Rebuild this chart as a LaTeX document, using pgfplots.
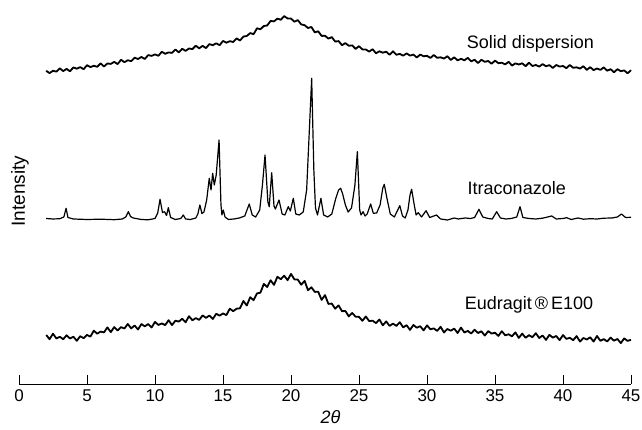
\documentclass[border=0pt]{standalone}
\usepackage{fontspec}
\setmainfont{Liberation Sans}
\usepackage{pgfplots}
\pgfplotsset{compat=1.18}

\begin{document}
\begin{tikzpicture}
\begin{axis}[
  scale only axis,
  width=612pt, height=384pt,
  xmin=0, xmax=45, ymin=46, ymax=430,
  clip=false,
  axis x line*=bottom,
  hide y axis,
  x axis line style={-, line width=0.8pt},
  xtick={0,5,...,45},
  minor xtick={},
  tick align=inside,
  major tick length=9pt,
  xtick style={black, line width=0.8pt},
  /pgf/number format/assume math mode=true,
  xticklabel style={font=\fontsize{17}{20}\selectfont, yshift=-2pt},
  every axis plot/.append style={black, line join=round},
]

% Solid dispersion (amorphous halo)
\addplot[line width=1.8pt] coordinates {
(2.00,359.2) (2.25,356.9) (2.50,359.2) (2.75,358.4) (3.00,361.6) (3.25,358.9) (3.50,361.1) (3.75,358.7) (4.00,362.6) (4.25,361.3) (4.50,362.9) (4.75,360.8) (5.00,364.8) (5.25,362.9) (5.50,364.2) (5.75,363.2) (6.00,366.6) (6.25,363.5) (6.50,366.5) (6.75,366.1) (7.00,368.1) (7.25,365.9) (7.50,370.2) (7.75,367.8) (8.00,369.7) (8.25,368.9) (8.50,372.3) (8.75,371.0) (9.00,373.0) (9.25,371.0) (9.50,374.9) (9.75,374.1) (10.00,375.6) (10.25,374.2) (10.50,378.2) (10.75,376.2) (11.00,377.6) (11.25,377.1) (11.50,380.5) (11.75,377.6) (12.00,381.2) (12.25,379.1) (12.50,381.5) (12.75,380.9) (13.00,384.3) (13.25,381.7) (13.50,384.1) (13.75,381.9) (14.00,385.9) (14.25,384.8) (14.50,386.7) (14.75,384.8) (15.00,389.0) (15.25,387.3) (15.50,388.8) (15.75,388.0) (16.00,391.6) (16.25,389.5) (16.50,393.4) (16.75,394.0) (17.00,396.9) (17.25,395.8) (17.50,401.7) (17.75,400.7) (18.00,404.0) (18.25,404.5) (18.50,409.1) (18.75,408.6) (19.00,411.4) (19.25,410.2) (19.50,413.9) (19.75,411.5) (20.00,411.4) (20.25,408.3) (20.50,409.9) (20.75,405.6) (21.00,404.8) (21.25,402.0) (21.50,403.0) (21.75,397.6) (22.00,398.7) (22.25,394.1) (22.50,394.2) (22.75,391.4) (23.00,392.9) (23.25,388.4) (23.50,388.9) (23.75,384.8) (24.00,386.9) (24.25,384.2) (24.50,384.6) (24.75,381.1) (25.00,383.8) (25.25,380.6) (25.50,380.5) (25.75,378.4) (26.00,380.8) (26.25,376.7) (26.50,378.7) (26.75,377.3) (27.00,378.3) (27.25,375.2) (27.50,378.7) (27.75,375.2) (28.00,376.1) (28.25,374.3) (28.50,376.6) (28.75,374.4) (29.00,375.4) (29.25,372.5) (29.50,375.4) (29.75,373.7) (30.00,374.2) (30.25,372.0) (30.50,375.0) (30.75,372.2) (31.00,372.7) (31.25,371.4) (31.50,373.8) (31.75,370.0) (32.00,372.7) (32.25,369.6) (32.50,371.2) (32.75,369.7) (33.00,372.1) (33.25,368.7) (33.50,370.2) (33.75,367.0) (34.00,370.2) (34.25,368.2) (34.50,369.0) (34.75,366.2) (35.00,369.4) (35.25,366.8) (35.50,367.3) (35.75,365.6) (36.00,368.2) (36.25,364.4) (36.50,366.6) (36.75,365.5) (37.00,366.7) (37.25,363.8) (37.50,367.3) (37.75,364.0) (38.00,365.0) (38.25,363.4) (38.50,365.9) (38.75,363.7) (39.00,364.9) (39.25,362.0) (39.50,365.0) (39.75,363.4) (40.00,364.0) (40.25,361.8) (40.50,365.0) (40.75,362.2) (41.00,362.7) (41.25,361.4) (41.50,363.8) (41.75,360.1) (42.00,362.8) (42.25,359.9) (42.50,361.5) (42.75,360.1) (43.00,362.6) (43.25,359.3) (43.50,360.8) (43.75,357.7) (44.00,360.8) (44.25,358.8) (44.50,359.6) (44.75,356.7) (45.00,359.8)
};

% Itraconazole (crystalline)
\addplot[line width=1.2pt] coordinates {
(2.0,211.5) (2.5,211.0) (3.0,211.3) (3.3,213) (3.46,221.7) (3.6,212.5) (4.0,211.0) (5,210.5) (6,210.8) (7,210.3) (7.6,211) (7.85,213) (8.04,218.3) (8.2,213.5) (8.4,212) (8.6,211.5) (9,210.5) (9.5,210.2) (10.0,211.5) (10.2,217) (10.37,230.7) (10.55,217.5) (10.7,218.3) (10.85,214.5) (10.98,222.3) (11.15,212.5) (11.5,210.5) (11.9,211.5) (12.08,215) (12.25,211) (12.6,210.5) (13.0,212) (13.15,216) (13.3,225) (13.45,216.5) (13.6,218) (13.8,230) (13.99,251.7) (14.12,240) (14.24,256.7) (14.36,245) (14.5,255) (14.71,290) (14.85,225) (14.92,215) (15.02,220) (15.15,213) (15.4,210.5) (15.8,211) (16.2,212) (16.6,214) (16.93,226) (17.15,215) (17.4,213) (17.7,220) (17.9,245) (18.09,275) (18.3,228) (18.4,223.3) (18.58,257.3) (18.75,224) (18.85,221) (19.12,230) (19.35,216) (19.55,215) (19.8,223.3) (19.95,219) (20.17,231.7) (20.35,216) (20.6,215) (20.9,218) (21.15,240) (21.35,300) (21.52,351.7) (21.68,260) (21.8,222) (21.95,215) (22.2,231.7) (22.4,215) (22.7,213) (23.0,216) (23.3,232) (23.5,240) (23.65,241.7) (23.8,236) (24.0,225) (24.2,218) (24.45,222) (24.7,245) (24.88,278.3) (25.05,220) (25.15,215) (25.3,218.3) (25.45,214) (25.6,216) (25.86,226) (26.05,216.7) (26.3,217) (26.55,225) (26.75,242) (26.86,245.7) (27.05,232) (27.3,216) (27.6,213) (28.0,224.3) (28.2,214) (28.4,212) (28.6,220) (28.75,235) (28.87,240.7) (29.05,226) (29.2,215) (29.36,217.3) (29.6,213) (29.93,219.3) (30.2,212.5) (30.7,215) (31.0,211) (31.5,210) (32.0,212) (32.3,211) (32.8,212) (33.2,211.5) (33.5,212.5) (33.82,220.7) (34.1,213) (34.5,211.5) (34.8,211) (35.12,218.3) (35.4,212) (35.8,211) (36.2,211.5) (36.6,213) (36.84,223.3) (37.05,212.5) (37.5,211.5) (38,211) (38.5,211.8) (39.17,214) (39.5,211) (40.0,211.5) (40.27,212.3) (40.6,210.5) (41.1,212) (41.5,210.8) (42.0,211.3) (42.5,211) (43,211.8) (43.6,212) (44.0,213) (44.3,216) (44.6,212.5) (45,212.7)
};

% Eudragit E100 (amorphous halo)
\addplot[line width=1.8pt] coordinates {
(2.00,95.0) (2.25,90.8) (2.50,96.3) (2.75,91.5) (3.00,93.2) (3.25,90.8) (3.50,94.7) (3.75,91.5) (4.00,93.3) (4.25,89.2) (4.50,93.8) (4.75,91.8) (5.00,95.1) (5.25,93.4) (5.50,99.3) (5.75,96.3) (6.00,98.4) (6.25,97.6) (6.50,102.6) (6.75,97.9) (7.00,102.9) (7.25,99.5) (7.50,102.9) (7.75,101.5) (8.00,106.0) (8.25,101.6) (8.50,104.5) (8.75,100.5) (9.00,105.9) (9.25,103.7) (9.50,105.9) (9.75,102.5) (10.00,108.1) (10.25,105.0) (10.50,106.6) (10.75,104.9) (11.00,109.8) (11.25,104.9) (11.50,109.3) (11.75,108.4) (12.00,111.3) (12.25,107.7) (12.50,113.8) (12.75,109.7) (13.00,111.9) (13.25,110.1) (13.50,114.6) (13.75,112.1) (14.00,114.5) (14.25,111.0) (14.50,116.2) (14.75,114.4) (15.00,116.5) (15.25,114.9) (15.50,121.3) (15.75,118.8) (16.00,121.3) (16.25,121.7) (16.50,129.0) (16.75,124.5) (17.00,132.8) (17.25,129.8) (17.50,136.6) (17.75,137.3) (18.00,146.1) (18.25,143.0) (18.50,149.7) (18.75,145.1) (19.00,153.2) (19.25,150.8) (19.50,154.3) (19.75,149.8) (20.00,156.1) (20.25,150.6) (20.50,150.4) (20.75,145.3) (21.00,149.1) (21.25,139.8) (21.50,142.7) (21.75,138.1) (22.00,138.3) (22.25,130.1) (22.50,134.9) (22.75,126.1) (23.00,126.4) (23.25,121.3) (23.50,124.6) (23.75,118.8) (24.00,119.0) (24.25,113.6) (24.50,117.0) (24.75,113.3) (25.00,113.1) (25.25,109.2) (25.50,113.5) (25.75,108.9) (26.00,109.3) (26.25,106.9) (26.50,110.5) (26.75,104.7) (27.00,108.6) (27.25,104.1) (27.50,106.4) (27.75,104.1) (28.00,107.8) (28.25,102.6) (28.50,104.8) (28.75,100.1) (29.00,105.0) (29.25,102.3) (29.50,103.8) (29.75,99.6) (30.00,104.6) (30.25,100.7) (30.50,101.6) (30.75,99.1) (31.00,103.2) (31.25,97.5) (31.50,101.0) (31.75,99.3) (32.00,101.4) (32.25,97.0) (32.50,102.4) (32.75,97.5) (33.00,99.1) (33.25,96.5) (33.50,100.3) (33.75,97.0) (34.00,98.7) (34.25,94.4) (34.50,98.9) (34.75,96.4) (35.00,97.3) (35.25,94.1) (35.50,98.8) (35.75,94.7) (36.00,95.7) (36.25,93.7) (36.50,97.6) (36.75,92.1) (37.00,96.4) (37.25,92.2) (37.50,94.8) (37.75,92.8) (38.00,96.8) (38.25,92.0) (38.50,94.5) (38.75,90.1) (39.00,95.1) (39.25,92.4) (39.50,94.0) (39.75,89.9) (40.00,94.9) (40.25,91.1) (40.50,92.2) (40.75,89.8) (41.00,93.9) (41.25,88.4) (41.50,92.0) (41.75,90.5) (42.00,92.7) (42.25,88.4) (42.50,94.0) (42.75,89.2) (43.00,90.9) (43.25,88.5) (43.50,92.4) (43.75,89.3) (44.00,91.0) (44.25,86.9) (44.50,91.6) (44.75,89.1) (45.00,90.2)
};

% Trace names
\node[font=\fontsize{18}{21}\selectfont] at (axis cs:37.6,386.5) {Solid dispersion};
\node[font=\fontsize{18}{21}\selectfont] at (axis cs:36.6,241.5) {Itraconazole};
\node[font=\fontsize{18}{21}\selectfont] at (axis cs:37.5,125) {Eudragit\,®\,E100};

% Axis titles
\node[font=\fontsize{19}{22}\selectfont, rotate=90] at (axis cs:0.07,239) {Intensity};
\node[font=\fontsize{18}{21}\selectfont\itshape] at (axis cs:22.9,13) {2θ};
\end{axis}
\pgfresetboundingbox
\path[use as bounding box] (-19pt,-46pt) rectangle (623pt,384pt);
\end{tikzpicture}
\end{document}
